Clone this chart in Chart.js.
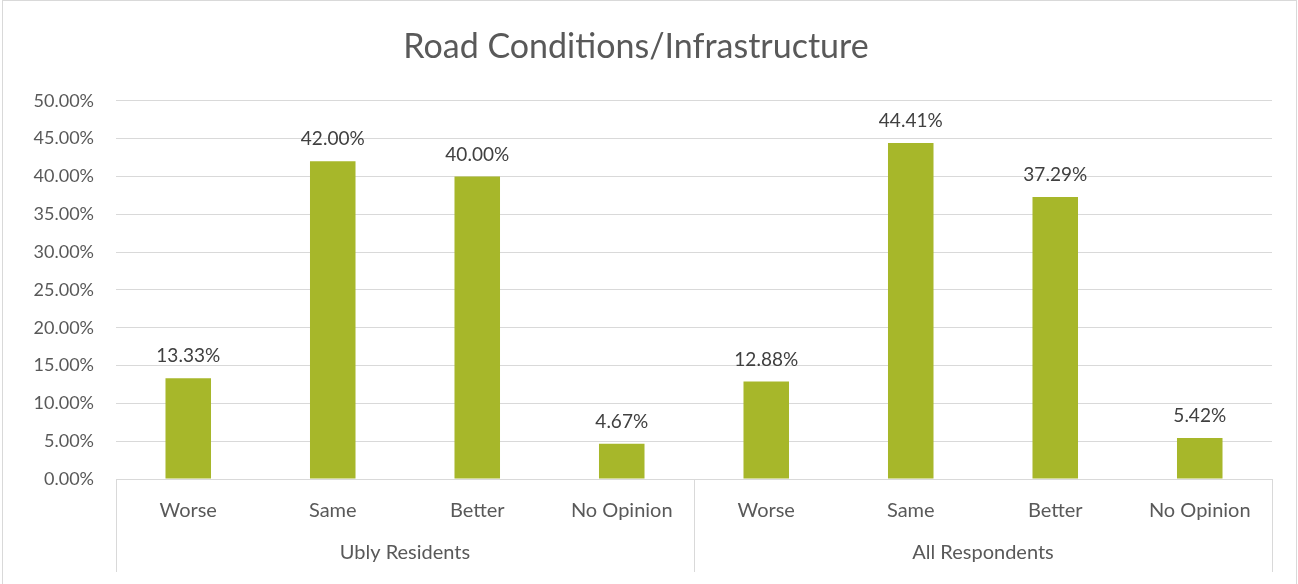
<!DOCTYPE html>
<html lang="en">
<head>
  <meta charset="UTF-8" />
  <title>Road Conditions/Infrastructure</title>
  <script src="https://cdn.jsdelivr.net/npm/chart.js"></script>
  <style>
    html, body { margin: 0; padding: 0; background: #fff; }
    #wrap { width: 1298px; height: 584px; position: relative; }
  </style>
</head>
<body>
  <div id="wrap"><canvas id="roadChart"></canvas></div>
  <script>
    // chart data
    const groups = ['Ubly Residents', 'All Respondents'];
    const answers = ['Worse', 'Same', 'Better', 'No Opinion'];
    const values = [13.33, 42.00, 40.00, 4.67, 12.88, 44.41, 37.29, 5.42];
    const yTicks = [0, 5, 10, 15, 20, 25, 30, 35, 40, 45, 50];

    const labels = [];
    groups.forEach(() => answers.forEach(a => labels.push(a)));

    const FONT = 'Lato, "Open Sans", sans-serif';
    const GREY = '#595959';

    // outer frame, group separators and group labels
    const extras = {
      id: 'extras',
      beforeDraw(chart) {
        const c = chart.ctx;
        c.save();
        c.strokeStyle = '#d9d9d9';
        c.lineWidth = 1;
        c.strokeRect(2.5, 0.5, chart.width - 4, chart.height + 10);
        c.restore();
      },
      afterDraw(chart) {
        const c = chart.ctx;
        const x = chart.scales.x;
        const area = chart.chartArea;
        const per = answers.length;
        const step = x.getPixelForValue(1) - x.getPixelForValue(0);
        c.save();
        c.strokeStyle = '#d9d9d9';
        c.lineWidth = 1;
        for (let g = 0; g <= groups.length; g++) {
          const px = Math.round(x.getPixelForValue(g * per) - step / 2) + 0.5;
          c.beginPath();
          c.moveTo(px, area.bottom);
          c.lineTo(px, 572);
          c.stroke();
        }
        c.fillStyle = GREY;
        c.font = '20px ' + FONT;
        c.textAlign = 'center';
        c.textBaseline = 'middle';
        groups.forEach((g, i) => {
          const mid = (x.getPixelForValue(i * per) + x.getPixelForValue(i * per + per - 1)) / 2;
          c.fillText(g, mid, 553);
        });
        // value labels
        const meta = chart.getDatasetMeta(0);
        c.fillStyle = '#404040';
        c.font = '19px ' + FONT;
        meta.data.forEach((bar, i) => {
          c.fillText(values[i].toFixed(2) + '%', bar.x, bar.y - 22);
        });
        c.restore();
      }
    };

    new Chart(document.getElementById('roadChart'), {
      type: 'bar',
      data: {
        labels: labels,
        datasets: [{
          data: values,
          backgroundColor: '#a7b72a',
          categoryPercentage: 1,
          barPercentage: 0.315
        }]
      },
      options: {
        responsive: true,
        maintainAspectRatio: false,
        animation: false,
        layout: { padding: { left: 0, right: 26, top: 0, bottom: 0 } },
        plugins: {
          legend: { display: false },
          tooltip: { enabled: false },
          title: {
            display: true,
            text: 'Road Conditions/Infrastructure',
            color: GREY,
            font: { family: FONT, size: 34, weight: 'normal', lineHeight: 1.2 },
            padding: { top: 27, bottom: 33 }
          }
        },
        scales: {
          x: {
            grid: { display: false },
            border: { display: true, color: '#d9d9d9' },
            ticks: { color: GREY, font: { family: FONT, size: 20 }, padding: 12, maxRotation: 0 },
            afterFit(s) { s.height = 105; }
          },
          y: {
            min: 0,
            max: 50,
            afterBuildTicks(s) { s.ticks = yTicks.map(v => ({ value: v })); },
            grid: { color: '#d9d9d9', drawTicks: false },
            border: { display: false },
            ticks: {
              color: GREY,
              font: { family: FONT, size: 18 },
              padding: 22,
              callback: v => v.toFixed(2) + '%'
            },
            afterFit(s) { s.width = 116; }
          }
        }
      },
      plugins: [extras]
    });
  </script>
</body>
</html>
